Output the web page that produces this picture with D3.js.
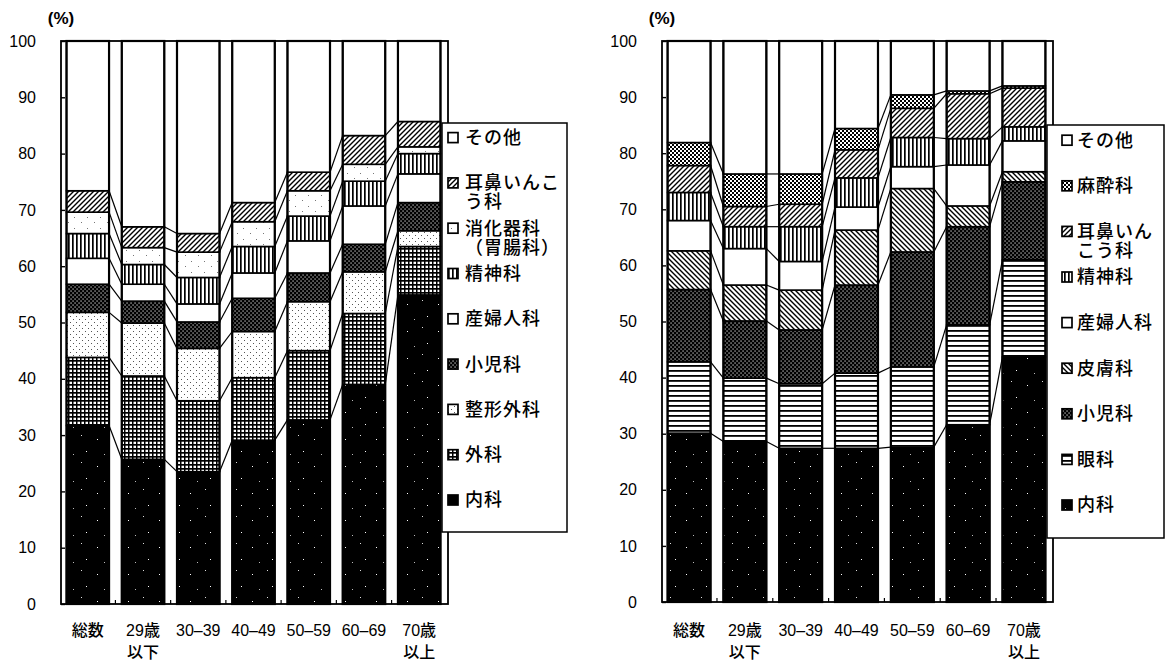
<!DOCTYPE html>
<html>
<head>
<meta charset="utf-8">
<script src="https://cdnjs.cloudflare.com/ajax/libs/d3/7.8.5/d3.min.js"></script>
<style>
  body { margin: 0; background: #fff; }
  text { font-family: "Liberation Sans", "Noto Sans CJK JP", sans-serif; fill: #000; }
</style>
</head>
<body>
<script>
// age groups (x categories), shared by both charts
var ageGroups = ["総数", "29歳以下", "30-39", "40-49", "50-59", "60-69", "70歳以上"];
var ageLabels = [["総数"], ["29歳", "以下"], ["30–39"], ["40–49"], ["50–59"], ["60–69"], ["70歳", "以上"]];
var yTicks = [0, 10, 20, 30, 40, 50, 60, 70, 80, 90, 100];

// left chart: departments, bottom to top
var leftKeys = ["内科", "外科", "整形外科", "小児科", "産婦人科", "精神科", "消化器科（胃腸科）", "耳鼻いんこう科", "その他"];
var leftLegend = [["内科"], ["外科"], ["整形外科"], ["小児科"], ["産婦人科"], ["精神科"], ["消化器科", "（胃腸科）"], ["耳鼻いんこ", "う科"], ["その他"]];
var leftNaika    = [31.7, 25.7, 23.5, 29.1, 32.7, 39.0, 54.9];
var leftGeka     = [12.1, 14.8, 12.6, 11.1, 12.3, 12.6, 8.6];
var leftSeikei   = [8.0, 9.4, 9.3, 8.2, 8.7, 7.4, 2.8];
var leftShoni    = [5.0, 3.9, 4.7, 5.9, 5.1, 4.9, 5.0];
var leftSanfujin = [4.6, 3.0, 3.2, 4.5, 5.7, 6.8, 5.1];
var leftSeishin  = [4.4, 3.5, 4.7, 4.7, 4.4, 4.4, 3.6];
var leftShokaki  = [3.8, 3.0, 4.5, 4.4, 4.5, 3.0, 1.2];
var leftJibi     = [3.8, 3.7, 3.3, 3.4, 3.3, 5.1, 4.5];
var leftSonota   = [26.6, 33.0, 34.2, 28.7, 23.3, 16.8, 14.3];

// right chart: departments, bottom to top
var rightKeys = ["内科", "眼科", "小児科", "皮膚科", "産婦人科", "精神科", "耳鼻いんこう科", "麻酔科", "その他"];
var rightLegend = [["内科"], ["眼科"], ["小児科"], ["皮膚科"], ["産婦人科"], ["精神科"], ["耳鼻いん", "こう科"], ["麻酔科"], ["その他"]];
var rightNaika    = [30.1, 28.6, 27.4, 27.4, 27.6, 31.6, 43.7];
var rightGanka    = [12.7, 11.3, 11.5, 13.4, 14.3, 17.8, 17.3];
var rightShoni    = [12.9, 10.2, 9.6, 15.7, 20.5, 17.5, 13.9];
var rightHifu     = [6.9, 6.4, 7.1, 9.8, 11.3, 3.7, 1.8];
var rightSanfujin = [5.4, 6.5, 5.1, 4.1, 3.9, 7.3, 5.5];
var rightSeishin  = [5.0, 3.9, 6.2, 5.2, 5.2, 4.7, 2.5];
var rightJibi     = [4.8, 3.6, 4.0, 5.0, 5.2, 8.0, 6.9];
var rightMasui    = [4.1, 5.8, 5.4, 3.8, 2.4, 0.5, 0.4];
var rightSonota   = [18.1, 23.7, 23.7, 15.6, 9.6, 8.9, 8.0];

var svg = d3.select("body").append("svg")
    .attr("width", 1166)
    .attr("height", 664);

// hatch patterns
var defs = svg.append("defs");

function pattern(id, w, h) {
    return defs.append("pattern")
        .attr("id", id)
        .attr("patternUnits", "userSpaceOnUse")
        .attr("width", w)
        .attr("height", h);
}

var p = pattern("solid", 31, 27);
p.append("rect").attr("width", 31).attr("height", 27).attr("fill", "#000");
p.append("rect").attr("x", 4).attr("y", 7).attr("width", 1).attr("height", 1).attr("fill", "#fff");
p.append("rect").attr("x", 19).attr("y", 3).attr("width", 1).attr("height", 1).attr("fill", "#ddd");
p.append("rect").attr("x", 24).attr("y", 19).attr("width", 1).attr("height", 1).attr("fill", "#fff");
p.append("rect").attr("x", 11).attr("y", 22).attr("width", 1).attr("height", 1).attr("fill", "#bbb");

p = pattern("grid", 4, 4);
p.append("rect").attr("width", 4).attr("height", 4).attr("fill", "#fff");
p.append("rect").attr("width", 4).attr("height", 1.7).attr("fill", "#000");
p.append("rect").attr("width", 1.5).attr("height", 4).attr("fill", "#000");

p = pattern("checker", 4, 4);
p.append("rect").attr("width", 4).attr("height", 4).attr("fill", "#000");
p.append("rect").attr("x", 0.5).attr("y", 0.5).attr("width", 1.1).attr("height", 1.1).attr("fill", "#fff");
p.append("rect").attr("x", 2.5).attr("y", 2.5).attr("width", 1.1).attr("height", 1.1).attr("fill", "#fff");

p = pattern("halfcheck", 4, 4);
p.append("rect").attr("width", 4).attr("height", 4).attr("fill", "#fff");
p.append("rect").attr("width", 2).attr("height", 2).attr("fill", "#000");
p.append("rect").attr("x", 2).attr("y", 2).attr("width", 2).attr("height", 2).attr("fill", "#000");

p = pattern("stipple", 6, 6);
p.append("rect").attr("width", 6).attr("height", 6).attr("fill", "#fff");
p.append("rect").attr("x", 1).attr("y", 1).attr("width", 1).attr("height", 1).attr("fill", "#555");
p.append("rect").attr("x", 4).attr("y", 4).attr("width", 1).attr("height", 1).attr("fill", "#555");

p = pattern("sparse", 13, 11);
p.append("rect").attr("width", 13).attr("height", 11).attr("fill", "#fff");
p.append("rect").attr("x", 3).attr("y", 2).attr("width", 1).attr("height", 1).attr("fill", "#777");
p.append("rect").attr("x", 9).attr("y", 8).attr("width", 1).attr("height", 1).attr("fill", "#777");

p = pattern("white", 4, 4);
p.append("rect").attr("width", 4).attr("height", 4).attr("fill", "#fff");

p = pattern("vlines", 4, 4);
p.append("rect").attr("width", 4).attr("height", 4).attr("fill", "#fff");
p.append("rect").attr("width", 1.7).attr("height", 4).attr("fill", "#000");

p = pattern("hlines", 5, 5);
p.append("rect").attr("width", 5).attr("height", 5).attr("fill", "#fff");
p.append("rect").attr("width", 5).attr("height", 1.8).attr("fill", "#000");

p = pattern("diag", 5, 5);
p.append("rect").attr("width", 5).attr("height", 5).attr("fill", "#fff");
p.append("path").attr("d", "M0,5L5,0M-1,1L1,-1M4,6L6,4").attr("stroke", "#000").attr("stroke-width", 1.4);

p = pattern("bdiag", 5, 5);
p.append("rect").attr("width", 5).attr("height", 5).attr("fill", "#fff");
p.append("path").attr("d", "M0,0L5,5M-1,4L1,6M4,-1L6,1").attr("stroke", "#000").attr("stroke-width", 1.4);

var leftChart = {
    keys: leftKeys,
    values: [leftNaika, leftGeka, leftSeikei, leftShoni, leftSanfujin, leftSeishin, leftShokaki, leftJibi, leftSonota],
    fills: ["solid", "grid", "stipple", "checker", "white", "vlines", "sparse", "diag", "white"],
    legend: leftLegend,
    left: 61, right: 448, top: 41, bottom: 604,
    legendBox: [442, 123, 125, 409], swatchX: 448, textX: 465, slot0: 500, slotStep: 45.3
};

var rightChart = {
    keys: rightKeys,
    values: [rightNaika, rightGanka, rightShoni, rightHifu, rightSanfujin, rightSeishin, rightJibi, rightMasui, rightSonota],
    fills: ["solid", "hlines", "checker", "bdiag", "white", "vlines", "diag", "halfcheck", "white"],
    legend: rightLegend,
    left: 662, right: 1053, top: 41, bottom: 602,
    legendBox: [1047, 125, 117, 413], swatchX: 1062, textX: 1077, slot0: 505, slotStep: 45.6
};

function drawChart(c) {
    var x = d3.scaleBand()
        .domain(ageGroups)
        .range([c.left, c.right - 2])
        .paddingInner(0.23)
        .paddingOuter(0.1);

    var y = d3.scaleLinear()
        .domain([0, 100])
        .range([c.bottom, c.top]);

    var table = ageGroups.map(function(a, i) {
        var row = {age: a};
        c.keys.forEach(function(k, j) { row[k] = c.values[j][i]; });
        return row;
    });
    var series = d3.stack().keys(c.keys)(table);

    var g = svg.append("g");

    // frame
    g.append("rect")
        .attr("x", c.left)
        .attr("y", c.top)
        .attr("width", c.right - c.left)
        .attr("height", c.bottom - c.top)
        .attr("fill", "#fff")
        .attr("stroke", "#000")
        .attr("stroke-width", 1.8);

    // stacked segments
    series.forEach(function(layer, j) {
        g.selectAll(null)
            .data(layer)
            .enter().append("rect")
            .attr("x", function(d) { return x(d.data.age); })
            .attr("y", function(d) { return y(d[1]); })
            .attr("width", x.bandwidth())
            .attr("height", function(d) { return y(d[0]) - y(d[1]); })
            .attr("fill", "url(#" + c.fills[j] + ")")
            .attr("stroke", "#000")
            .attr("stroke-width", 1.6);
    });

    // connector lines across the gaps
    series.slice(0, series.length - 1).forEach(function(layer) {
        for (var i = 0; i < layer.length - 1; i++) {
            g.append("line")
                .attr("x1", x(ageGroups[i]) + x.bandwidth())
                .attr("y1", y(layer[i][1]))
                .attr("x2", x(ageGroups[i + 1]))
                .attr("y2", y(layer[i + 1][1]))
                .attr("stroke", "#000")
                .attr("stroke-width", 1.2);
        }
    });

    // bar outlines
    g.selectAll(null)
        .data(ageGroups)
        .enter().append("rect")
        .attr("x", function(d) { return x(d); })
        .attr("y", y(100))
        .attr("width", x.bandwidth())
        .attr("height", y(0) - y(100))
        .attr("fill", "none")
        .attr("stroke", "#000")
        .attr("stroke-width", 2.2);

    // small ticks at the bottom, in the gaps
    g.selectAll(null)
        .data(ageGroups.slice(1))
        .enter().append("line")
        .attr("x1", function(d) { return x(d) - x.step() * x.paddingInner() / 2; })
        .attr("x2", function(d) { return x(d) - x.step() * x.paddingInner() / 2; })
        .attr("y1", c.bottom)
        .attr("y2", c.bottom - 4)
        .attr("stroke", "#000")
        .attr("stroke-width", 1.2);

    // y axis
    var ax = g.append("g")
        .attr("transform", "translate(" + c.left + ",0)")
        .call(d3.axisLeft(y).tickValues(yTicks).tickSize(-4).tickSizeOuter(0).tickPadding(25));
    ax.select(".domain").remove();
    ax.selectAll(".tick line").attr("stroke-width", 1.4);
    ax.selectAll(".tick text")
        .style("font-size", "16px")
        .style("font-family", "'Liberation Sans', sans-serif");

    g.append("text")
        .attr("x", c.left)
        .attr("y", 18)
        .attr("dy", "0.35em")
        .attr("text-anchor", "middle")
        .style("font-size", "17px")
        .style("font-weight", "bold")
        .text("(%)");

    // x labels
    ageGroups.forEach(function(a, i) {
        ageLabels[i].forEach(function(line, k) {
            g.append("text")
                .attr("x", x(a) + x.bandwidth() / 2)
                .attr("y", 636 + k * 22)
                .attr("text-anchor", "middle")
                .style("font-size", "16px")
                .style("font-weight", 500)
                .text(line);
        });
    });

    // legend
    var lb = c.legendBox;
    g.append("rect")
        .attr("x", lb[0])
        .attr("y", lb[1])
        .attr("width", lb[2])
        .attr("height", lb[3])
        .attr("fill", "#fff")
        .attr("stroke", "#000")
        .attr("stroke-width", 1.5);

    c.legend.forEach(function(lines, j) {
        var sy = c.slot0 - j * c.slotStep;
        g.append("rect")
            .attr("x", c.swatchX)
            .attr("y", sy - 5)
            .attr("width", 10)
            .attr("height", 10)
            .attr("fill", "url(#" + c.fills[j] + ")")
            .attr("stroke", "#000")
            .attr("stroke-width", 1.7);
        lines.forEach(function(line, k) {
            g.append("text")
                .attr("x", c.textX)
                .attr("y", sy + k * 19)
                .attr("dy", "0.36em")
                .style("font-size", "18px")
                .style("font-weight", 500)
                .style("letter-spacing", "1px")
                .text(line);
        });
    });
}

drawChart(leftChart);
drawChart(rightChart);
</script>
</body>
</html>
